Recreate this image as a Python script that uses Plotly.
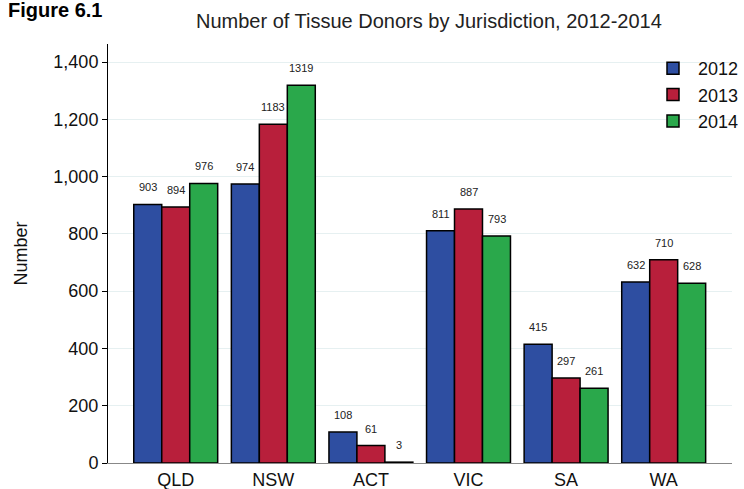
import plotly.graph_objects as go

categories = ["QLD", "NSW", "ACT", "VIC", "SA", "WA"]
years = ["2012", "2013", "2014"]
v2012 = [903, 974, 108, 811, 415, 632]
v2013 = [894, 1183, 61, 887, 297, 710]
v2014 = [976, 1319, 3, 793, 261, 628]
yticks = [0, 200, 400, 600, 800, 1000, 1200, 1400]
ytick_labels = ["0", "200", "400", "600", "800", "1,000", "1,200", "1,400"]

colors = ["#2e4ea1", "#b81f3b", "#2aa84b"]
series = [v2012, v2013, v2014]

W, H = 744, 489
L, R, T, B = 108, 12, 44, 26
pw = W - L - R
ph = H - T - B
PX0, PY0 = L, H - B


def px(xw):
    return (xw - PX0) / pw


def py(yw):
    return (PY0 - yw) / ph


fig = go.Figure()
for name, vals, c in zip(years, series, colors):
    fig.add_trace(go.Bar(
        x=categories, y=vals, name=name, legendgroup=name,
        marker=dict(color=c, line=dict(color="black", width=1.5)),
    ))

# value labels above bars
slot = 28
for i, vals in enumerate(series):
    for cat, v in zip(categories, vals):
        fig.add_annotation(
            x=cat, y=v, xref="x", yref="y", text=str(v), showarrow=False,
            xshift=(i - 1) * slot, yshift=17, yanchor="middle",
            font=dict(size=11, color="#222"),
        )

fig.add_annotation(
    x=px(104), y=py(10), xref="paper", yref="paper",
    text="<b>Figure 6.1</b>", showarrow=False, xanchor="right", yanchor="middle",
    font=dict(size=20, color="black"),
)
fig.add_annotation(
    x=px(429), y=py(21), xref="paper", yref="paper",
    text="Number of Tissue Donors by Jurisdiction, 2012-2014", showarrow=False,
    xanchor="center", yanchor="middle", font=dict(size=20, color="#222"),
)

fig.update_layout(
    width=W, height=H,
    margin=dict(l=L, r=R, t=T, b=B, autoexpand=False),
    paper_bgcolor="white", plot_bgcolor="white",
    font=dict(family="Liberation Sans, Arial, sans-serif", size=18, color="#111"),
    barmode="group", bargap=0.14, bargroupgap=0,
    showlegend=True,
    legend=dict(x=px(744), y=py(50), xanchor="right", yanchor="top",
                font=dict(size=18), bgcolor="rgba(0,0,0,0)", tracegroupgap=0,
                itemwidth=40),
    xaxis=dict(range=[-0.694, 5.70], showgrid=False, showline=True,
               linecolor="#888", linewidth=1, ticks="", zeroline=False,
               tickfont=dict(size=18), automargin=False),
    yaxis=dict(range=[0, 1463], tickvals=yticks, ticktext=ytick_labels,
               showgrid=True, gridcolor="#e6f0f1", gridwidth=1,
               showline=True, linecolor="black", linewidth=1,
               ticks="outside", ticklen=5, tickcolor="black",
               zeroline=False, tickfont=dict(size=18), automargin=False,
               title=dict(text="Number", font=dict(size=18), standoff=21)),
)

fig.write_html(
    "out.html",
    config={"displayModeBar": False},
    post_script="document.body.style.margin='0';document.body.style.overflow='hidden';",
)
